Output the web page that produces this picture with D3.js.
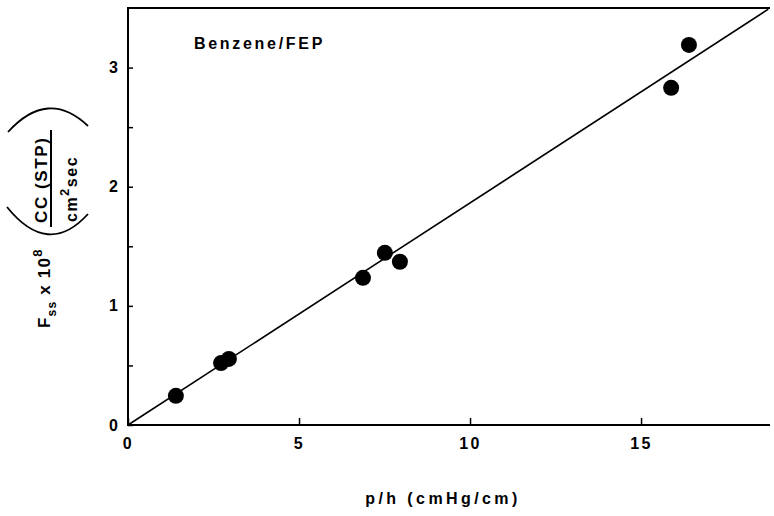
<!DOCTYPE html>
<html>
<head>
<meta charset="utf-8">
<script src="https://cdn.jsdelivr.net/npm/d3@7"></script>
<style>
  body { margin: 0; background: #fff; }
  svg { font-family: "Liberation Sans", Arial, sans-serif; font-weight: bold; }
</style>
</head>
<body>
<div id="content"></div>
<script>
// measured points, p/h vs F_ss x 10^8
let ph = [1.40, 2.72, 2.95, 6.87, 7.51, 7.95, 15.88, 16.40];
let fss = [0.245, 0.52, 0.555, 1.235, 1.445, 1.37, 2.83, 3.19];
// fitted straight line through origin
let fitX = [0, 18.72];
let fitY = [0, 3.49];
let xTicks = [0, 5, 10, 15];
let yTicks = [0, 0.5, 1, 1.5, 2, 2.5, 3];
let yLabels = [0, 1, 2, 3];

let width = 774, height = 516;
let padLeft = 128, padRight = 770, padTop = 8, padBottom = 425;

let svg = d3.select('#content').append('svg').attr('width', width).attr('height', height);

let xScale = d3.scaleLinear().domain([0, 18.77]).range([padLeft, padRight]);
let yScale = d3.scaleLinear().domain([0, 3.5]).range([padBottom, padTop]);

// frame: left, bottom, top
svg.append('path')
  .attr('d', `M${padRight},${padTop}H${padLeft}V${padBottom}H${padRight}`)
  .attr('fill', 'none').attr('stroke', '#000').attr('stroke-width', 2);

let xAxis = d3.axisBottom(xScale).tickValues(xTicks).tickSizeInner(-7).tickSizeOuter(0).tickPadding(13);
let gx = svg.append('g').attr('transform', `translate(0,${padBottom})`).call(xAxis);
gx.select('.domain').remove();
gx.selectAll('line').attr('stroke-width', 1.5);
gx.selectAll('text').style('font-size', '16px').style('font-weight', 'bold').style('letter-spacing', '2.5px');

let yAxis = d3.axisLeft(yScale).tickValues(yTicks).tickSizeInner(-5).tickSizeOuter(0).tickPadding(10)
  .tickFormat(d => yLabels.includes(d) ? d : '');
let gy = svg.append('g').attr('transform', `translate(${padLeft},0)`).call(yAxis);
gy.select('.domain').remove();
gy.selectAll('line').attr('stroke-width', 1.5);
gy.selectAll('text').style('font-size', '16px').style('font-weight', 'bold');

// fitted line
let line = d3.line().x(d => xScale(d[0])).y(d => yScale(d[1]));
svg.append('path').datum(d3.zip(fitX, fitY)).attr('d', line)
  .attr('fill', 'none').attr('stroke', '#000').attr('stroke-width', 1.6);

svg.selectAll('circle').data(d3.zip(ph, fss)).enter().append('circle')
  .attr('cx', d => xScale(d[0]))
  .attr('cy', d => yScale(d[1]))
  .attr('r', 8)
  .attr('fill', '#000');

svg.append('text').text('Benzene/FEP')
  .attr('x', 194).attr('y', 49)
  .style('font-size', '16px').style('letter-spacing', '2.7px');

svg.append('text').text('p/h (cmHg/cm)')
  .attr('x', 443).attr('y', 504).attr('text-anchor', 'middle')
  .style('font-size', '16px').style('letter-spacing', '3.4px');

// y label, rotated
let yl = svg.append('g').attr('transform', 'rotate(-90)');
let t1 = yl.append('text').attr('x', -328).attr('y', 50).style('font-size', '17px').style('letter-spacing', '1.2px');
t1.append('tspan').text('F');
t1.append('tspan').text('ss').attr('dy', 6).style('font-size', '12px');
t1.append('tspan').text(' x 10').attr('dy', -6);
t1.append('tspan').text('8').attr('dy', -8).style('font-size', '13px');

yl.append('text').text('CC (STP)').attr('x', -223).attr('y', 47)
  .style('font-size', '17px').style('letter-spacing', '1.6px');
let t2 = yl.append('text').attr('x', -222).attr('y', 77).style('font-size', '16px').style('letter-spacing', '1.5px');
t2.append('tspan').text('cm');
t2.append('tspan').text('2').attr('dy', -8).style('font-size', '13px');
t2.append('tspan').text('sec').attr('dy', 8);

svg.append('line').attr('x1', 51).attr('x2', 51).attr('y1', 227).attr('y2', 130)
  .attr('stroke', '#000').attr('stroke-width', 2);
// big parentheses around the unit fraction
svg.append('path').attr('d', 'M8,132 Q48,88 88,126')
  .attr('fill', 'none').attr('stroke', '#000').attr('stroke-width', 1.8);
svg.append('path').attr('d', 'M7,207 Q48,258 88,214')
  .attr('fill', 'none').attr('stroke', '#000').attr('stroke-width', 1.8);
</script>
</body>
</html>
